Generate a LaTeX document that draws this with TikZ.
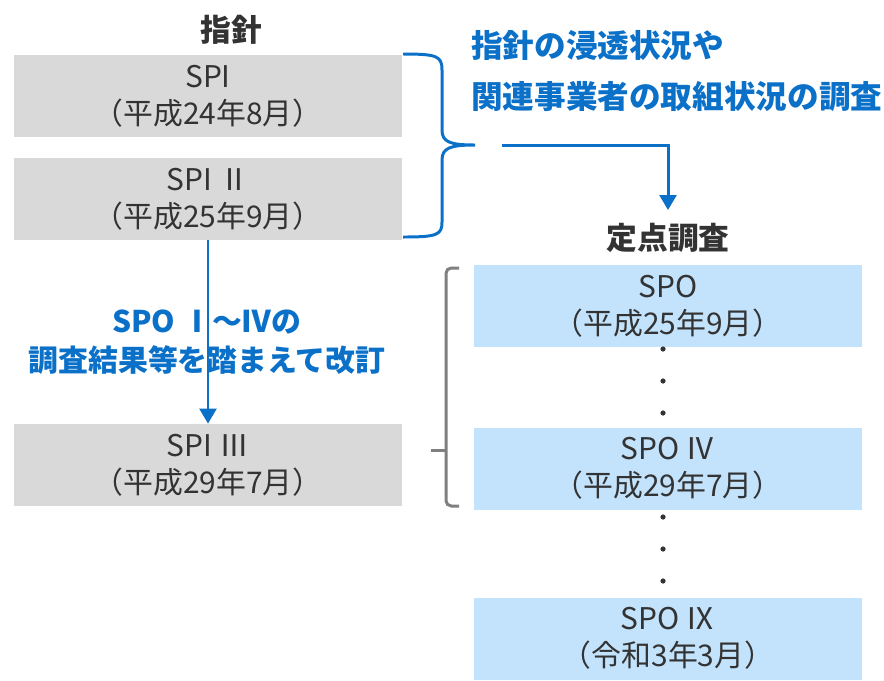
\documentclass[tikz,border=0pt]{standalone}
\usepackage{fontspec}
\setmainfont{Noto Sans CJK JP}
\usepackage{tikz}
\usetikzlibrary{arrows.meta,positioning,calc}
\definecolor{boxgray}{HTML}{D9D9D9}
\definecolor{boxblue}{HTML}{C3E3FD}
\definecolor{mainblue}{HTML}{0A70C8}
\definecolor{txtgray}{HTML}{333333}
\definecolor{brgray}{HTML}{7F7F7F}
\tikzset{
  spibox/.style={fill=boxgray, minimum width=7.76cm, minimum height=1.64cm, inner sep=0pt,
    align=center, text=txtgray, font=\fontsize{17}{21}\selectfont},
  spobox/.style={spibox, fill=boxblue},
  headtxt/.style={text=txtgray, font=\fontsize{17.5}{20}\selectfont\bfseries},
  bluetxt/.style={text=mainblue, font=\fontsize{17}{20}\selectfont\bfseries},
  blueline/.style={draw=mainblue, line width=1.7pt},
  bluearrow/.style={blueline, -{Triangle[width=9.5pt,length=8.5pt]}},
}
\begin{document}
\begin{tikzpicture}[x=0.02cm,y=-0.02cm]
\useasboundingbox (0,0) rectangle (884,680);

% left column
\node[headtxt] (shishin) at (231,30) {指針};
\node[spibox] (spi1) at (208,96) {SPI\\（平成24年8月）};
\node[spibox] (spi2) at (208,199) {SPI Ⅱ\\（平成25年9月）};
\node[spibox] (spi3) at (208,465) {SPI Ⅲ\\（平成29年7月）};

% right column
\node[headtxt] (teiten) at (668,238) {定点調査};
\node[spobox] (spo1) at (668,306) {SPO\\（平成25年9月）};
\node[spobox] (spo4) at (668,468.5) {SPO Ⅳ\\（平成29年7月）};
\node[spobox] (spo9) at (668,638.5) {SPO Ⅸ\\（令和3年3月）};

\foreach \y in {349,381,413,517,549,581}
  \fill[txtgray] (663,\y) circle (2.6);

% blue texts
\node[bluetxt, font=\fontsize{18}{20}\selectfont\bfseries, anchor=west] (survey1) at (465,45) {指針の浸透状況や};
\node[bluetxt, font=\fontsize{18}{20}\selectfont\bfseries, anchor=west] (survey2) at (465,97) {関連事業者の取組状況の調査};

% brace and arrow to the fixed-point survey
\draw[blueline] (403,54) .. controls (437,54) and (442,56) .. (442,70) -- (442,130)
  .. controls (442,142) and (450,145) .. (475,145)
  .. controls (450,145) and (442,148) .. (442,160) -- (442,222)
  .. controls (442,235) and (437,237) .. (403,237);
\coordinate (brout) at (502,145);
\draw[bluearrow, shorten >=4pt] (brout) -| (teiten.north);

% revision arrow
\draw[bluearrow] (spi2.south) -- (spi3.north);
\node[bluetxt] (rev1) at (207,322) {SPO Ⅰ～Ⅳの};
\node[bluetxt] (rev2) at (207,360) {調査結果等を踏まえて改訂};

% gray bracket
\draw[brgray, line width=1.7pt, rounded corners=3pt] (459,268) -- (446,268) -- (446,506) -- (459,506);
\draw[brgray, line width=1.7pt] (446,450) -- (431,450);

\end{tikzpicture}
\end{document}
